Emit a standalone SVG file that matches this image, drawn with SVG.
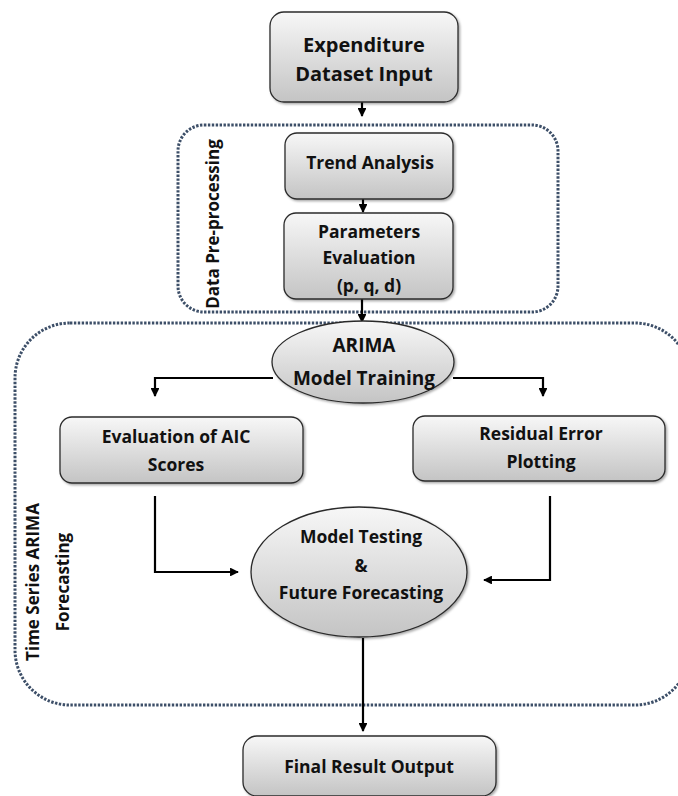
<svg xmlns="http://www.w3.org/2000/svg" width="678" height="796" viewBox="0 0 678 796">
<defs>
<linearGradient id="g" x1="0" y1="0" x2="0" y2="1">
<stop offset="0" stop-color="#f7f7f7"/>
<stop offset="1" stop-color="#c4c4c4"/>
</linearGradient>
<marker id="ah" viewBox="0 0 10 10" refX="9" refY="5" markerWidth="4" markerHeight="4" markerUnits="strokeWidth" orient="auto">
<path d="M0,0 L10,5 L0,10 z" fill="#000"/>
</marker>
<filter id="sh" x="-10%" y="-10%" width="130%" height="130%">
<feDropShadow dx="1.5" dy="1.5" stdDeviation="1.2" flood-color="#000" flood-opacity="0.35"/>
</filter>
</defs>
<style>
.box{fill:url(#g);stroke:#2b2b2b;stroke-width:1.3;filter:url(#sh)}
.grp{fill:none;stroke:#3d4f68;stroke-width:3;stroke-dasharray:2.4 1.5}
.t{font-family:"Open Sans","Noto Sans","Liberation Sans",sans-serif;font-weight:bold;fill:#111;text-anchor:middle}
.s17{font-size:17.5px}
.sv{font-size:17px}
.s19{font-size:19px}
.s20{font-size:20px}
.c{fill:none;stroke:#000;stroke-width:2.2}
</style>
<rect width="678" height="796" fill="#fff"/>

<g id="group-preprocessing">
<rect class="grp" x="178" y="125" width="380" height="187" rx="26"/>
<text class="t sv" transform="translate(219,224) rotate(-90)">Data Pre-processing</text>
</g>
<g id="group-forecasting">
<rect class="grp" x="15" y="323" width="675" height="382" rx="55"/>
<text class="t sv" transform="translate(39,582) rotate(-90)">Time Series ARIMA</text>
<text class="t sv" transform="translate(69,582) rotate(-90)">Forecasting</text>
</g>

<g id="connectors">
<line class="c" x1="362" y1="102" x2="362" y2="116" marker-end="url(#ah)"/>
<line class="c" x1="363" y1="199" x2="363" y2="212" marker-end="url(#ah)"/>
<line class="c" x1="362" y1="299" x2="362" y2="322" marker-end="url(#ah)"/>
<polyline class="c" points="273,378 155,378 155,396" marker-end="url(#ah)"/>
<polyline class="c" points="453,378 543,378 543,396" marker-end="url(#ah)"/>
<polyline class="c" points="155,496 155,572 238,572" marker-end="url(#ah)"/>
<polyline class="c" points="550,496 550,580 484,580" marker-end="url(#ah)"/>
<line class="c" x1="363" y1="638" x2="363" y2="731" marker-end="url(#ah)"/>
</g>

<g id="node-expenditure">
<rect class="box" x="270" y="12" width="188" height="90" rx="14"/>
<text class="t s20" x="364" y="52">Expenditure</text>
<text class="t s20" x="364" y="81">Dataset Input</text>
</g>
<g id="node-trend">
<rect class="box" x="285" y="133" width="168" height="66" rx="12"/>
<text class="t s17" x="370" y="169">Trend Analysis</text>
</g>
<g id="node-params">
<rect class="box" x="284" y="213" width="169" height="86" rx="12"/>
<text class="t s17" x="369" y="238">Parameters</text>
<text class="t s17" x="369" y="264">Evaluation</text>
<text class="t s17" x="369" y="292">(p, q, d)</text>
</g>
<g id="node-arima">
<ellipse class="box" cx="363" cy="362" rx="91" ry="41"/>
<text class="t s19" x="364" y="352">ARIMA</text>
<text class="t s19" x="364" y="385">Model Training</text>
</g>
<g id="node-aic">
<rect class="box" x="60" y="417" width="243" height="66" rx="12"/>
<text class="t s17" x="176" y="443">Evaluation of AIC</text>
<text class="t s17" x="176" y="471">Scores</text>
</g>
<g id="node-residual">
<rect class="box" x="413" y="416" width="252" height="65" rx="12"/>
<text class="t s17" x="541" y="440">Residual Error</text>
<text class="t s17" x="541" y="468">Plotting</text>
</g>
<g id="node-testing">
<ellipse class="box" cx="359" cy="572" rx="108" ry="65"/>
<text class="t s17" x="361" y="543">Model Testing</text>
<text class="t s17" x="361" y="572">&amp;</text>
<text class="t s17" x="361" y="599">Future Forecasting</text>
</g>
<g id="node-final">
<rect class="box" x="243" y="736" width="253" height="60" rx="14"/>
<text class="t s17" x="369" y="773">Final Result Output</text>
</g>
</svg>
